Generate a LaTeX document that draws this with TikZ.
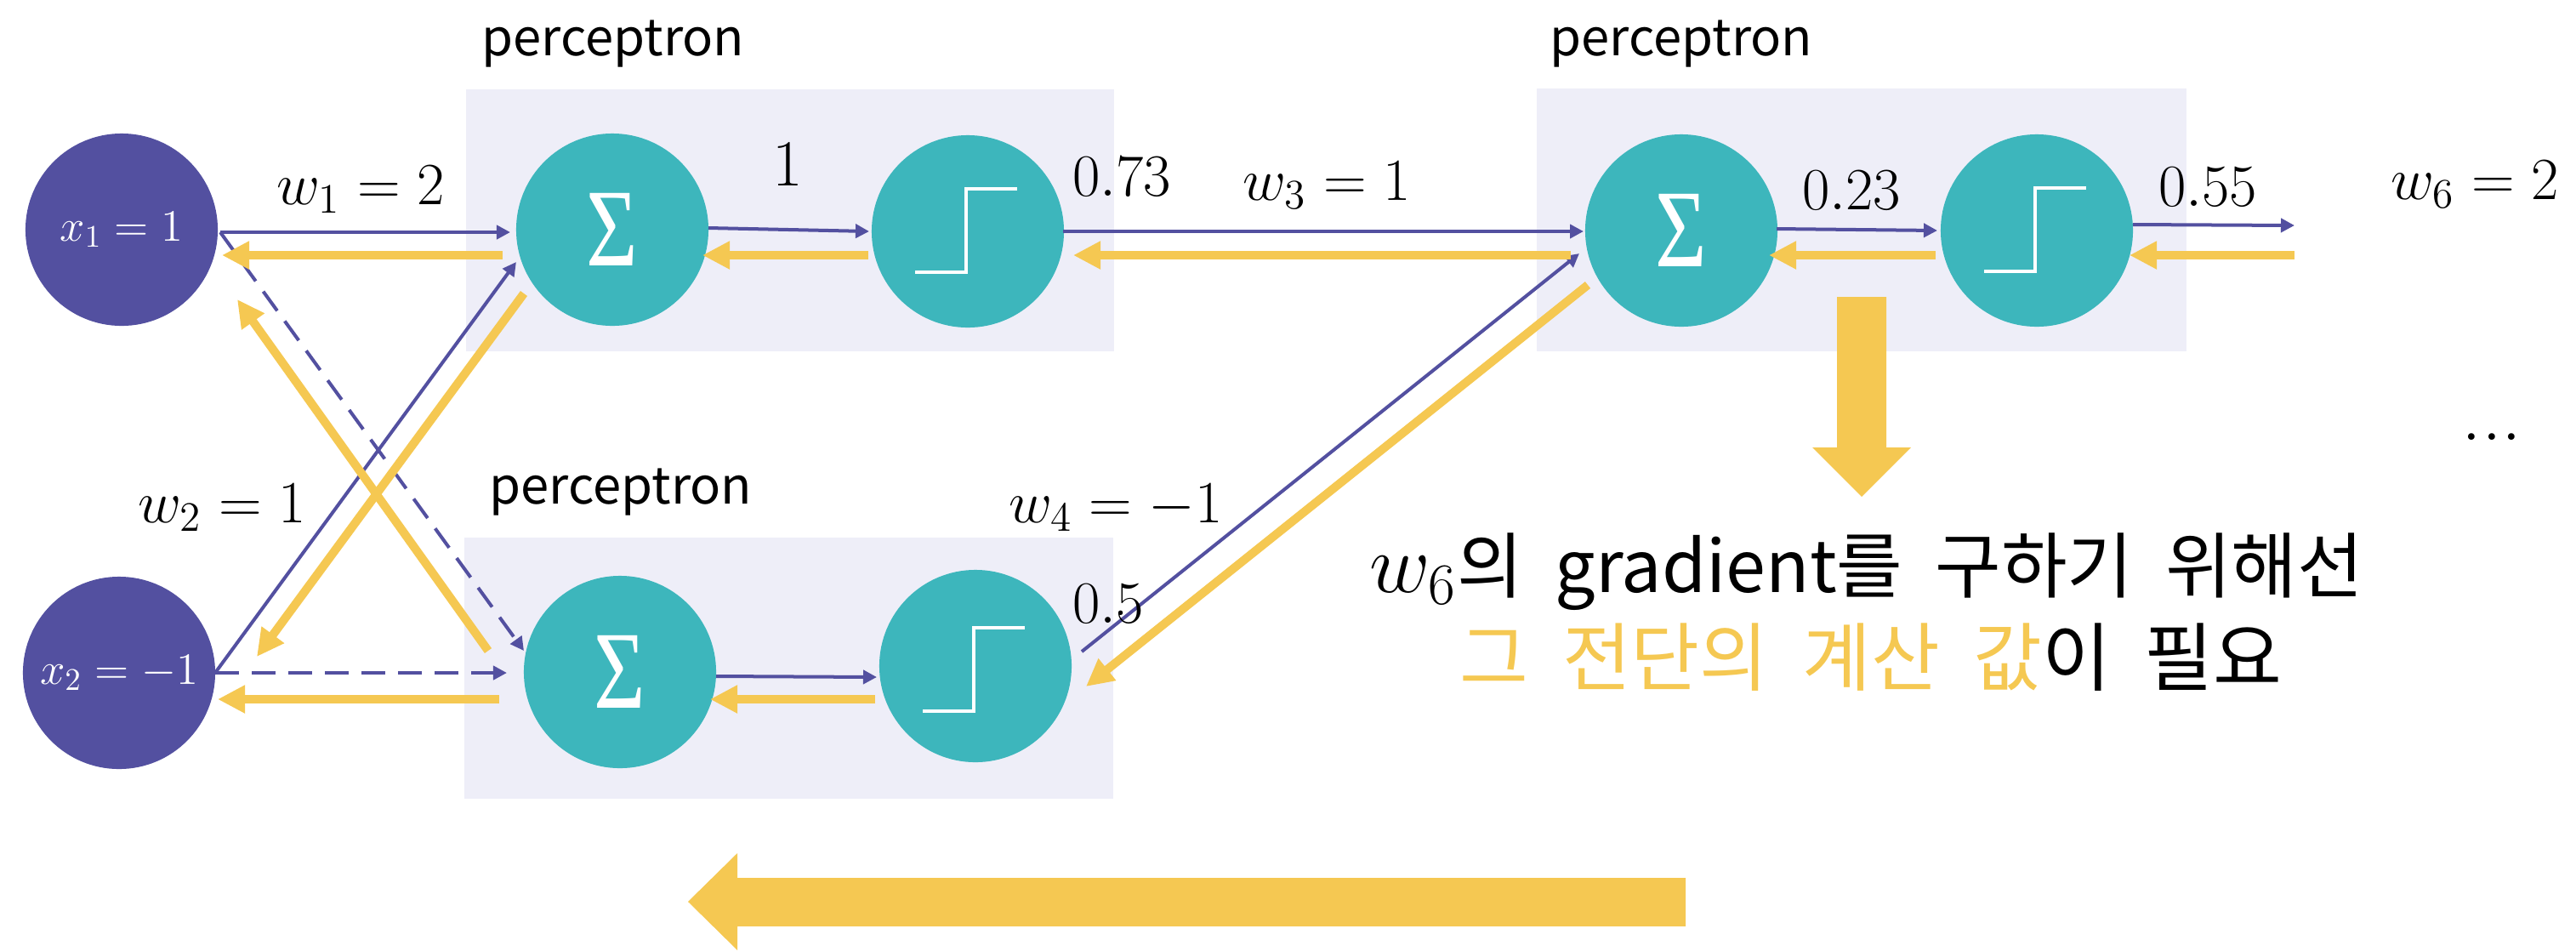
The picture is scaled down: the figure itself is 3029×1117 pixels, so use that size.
\RequirePackage{fix-cm}
\documentclass[tikz,border=0pt]{standalone}
\usepackage{graphicx}
\usepackage{fontspec}
\newfontfamily\kr[WordSpace=2]{Noto Sans CJK KR}
\newfontfamily\grk{Liberation Serif}
\usetikzlibrary{arrows.meta,calc}
\definecolor{pur}{RGB}{83,80,160}
\definecolor{tealc}{RGB}{61,182,188}
\definecolor{yel}{RGB}{245,200,82}
\definecolor{boxc}{RGB}{238,238,248}
\newcommand\sigglyph{{\grk\fontsize{37}{37}\selectfont\scalebox{0.8}[1]{Σ}}}
\tikzset{
 inp/.style={circle,fill=pur,minimum size=2.26cm,inner sep=0pt,text=white,font=\fontsize{15}{15}\selectfont},
 unit/.style={circle,fill=tealc,minimum size=2.26cm,inner sep=0pt,text=white},
 fwd/.style={draw=pur,line width=0.04cm,-{Triangle[length=0.16cm,width=0.16cm]}},
 fwddash/.style={fwd,dash pattern=on 0.28cm off 0.15cm},
 bwd/.style={draw=yel,line width=0.1cm,-{Triangle[length=0.32cm,width=0.31cm]}},
 lbl/.style={font=\fontsize{20}{20}\selectfont,inner sep=0pt,anchor=base},
 plbl/.style={font=\kr\fontsize{17}{17}\selectfont,inner sep=0pt,anchor=base},
 kor/.style={font=\kr\fontsize{24}{24}\selectfont,inner sep=0pt,anchor=base},
 stepline/.style={draw=white,line width=0.045cm},
}
\begin{document}
\begin{tikzpicture}[x=0.01cm,y=-0.01cm]
\useasboundingbox (0,0) rectangle (3029,1117);
% perceptron boxes
\fill[boxc] (548,105) rectangle (1310,413);
\fill[boxc] (546,632) rectangle (1309,939);
\fill[boxc] (1807,104) rectangle (2571,413);
% nodes
\node[inp] (x1) at (143,270) {$x_1=1$};
\node[inp] (x2) at (140,791) {$x_2=-1$};
\node[unit] (S1) at (720,270) {\sigglyph};
\node[unit] (T1) at (1138,272) {};
\node[unit] (S2) at (729,790) {\sigglyph};
\node[unit] (T2) at (1147,783) {};
\node[unit] (S3) at (1977,271) {\sigglyph};
\node[unit] (T3) at (2395,271) {};
% step glyphs
\foreach \t/\d in {T1/0,T2/5,T3/0}{
  \draw[stepline] ($(\t)+(-62,48+\d)$) -- ($(\t)+(-2,48+\d)$) -- ($(\t)+(-2,-50+\d)$) -- ($(\t)+(58,-50+\d)$);
}
% free ends
\coordinate (outR) at (2698,265);
\coordinate (inR) at (2698,300);
% forward connectors
\draw[fwd] ($(x1)+(116,3)$) -- ($(S1)+(-120,3)$);
\draw[fwd] ($(S1)+(113,-2)$) -- ($(T1)+(-116,0)$);
\draw[fwd] ($(T1)+(112,0)$) -- ($(S3)+(-115,1)$);
\draw[fwd] ($(S3)+(112,-2)$) -- ($(T3)+(-117,0)$);
\draw[fwd] ($(T3)+(113,-7)$) -- (outR);
\draw[fwd] ($(x2)+(113,0)$) -- ($(S1)+(-113,38)$);
\draw[fwd] ($(S2)+(113,5)$) -- ($(T2)+(-116,13)$);
\draw[fwd] ($(T2)+(125,-17)$) -- ($(S3)+(-120,27)$);
\draw[fwddash] ($(x1)+(116,3)$) -- ($(S2)+(-113,-25)$);
\draw[fwddash] ($(x2)+(113,0)$) -- ($(S2)+(-133,1)$);
% backward connectors
\draw[bwd] ($(S1)+(-129,30)$) -- ($(x1)+(118,30)$);
\draw[bwd] ($(T1)+(-117,28)$) -- ($(S1)+(106,30)$);
\draw[bwd] ($(S3)+(-130,29)$) -- ($(T1)+(124,28)$);
\draw[bwd] ($(T3)+(-119,29)$) -- ($(S3)+(103,29)$);
\draw[bwd] (inR) -- ($(T3)+(109,29)$);
\draw[bwd] ($(S2)+(-155,-25)$) -- ($(x1)+(136,82)$);
\draw[bwd] ($(S1)+(-104,75)$) -- ($(x2)+(162,-19)$);
\draw[bwd] ($(S2)+(-142,32)$) -- ($(x2)+(116,31)$);
\draw[bwd] ($(T2)+(-118,39)$) -- ($(S2)+(106,32)$);
\draw[bwd] ($(S3)+(-110,64)$) -- ($(T2)+(130,24)$);
% big arrows
\fill[yel] (2160,349) -- (2218,349) -- (2218,526) -- (2247,526) -- (2189,584) -- (2131,526) -- (2160,526) -- cycle;
\fill[yel] (1982,1032) -- (867,1032) -- (867,1003) -- (809,1060) -- (867,1117) -- (867,1089) -- (1982,1089) -- cycle;
% labels
\node[plbl] (p1) at (721,65) {perceptron};
\node[plbl] (p2) at (730,592) {perceptron};
\node[plbl] (p3) at (1977,65) {perceptron};
\node[lbl] (w1) at (424,240) {$w_1 = 2$};
\node[lbl,font=\fontsize{22}{22}\selectfont] (one) at (926,218) {$1$};
\node[lbl] (v073) at (1319,230) {$0.73$};
\node[lbl] (w3) at (1560,235) {$w_3 = 1$};
\node[lbl] (v023) at (2177,246) {$0.23$};
\node[lbl] (v055) at (2596,242) {$0.55$};
\node[lbl] (w6) at (2910,234) {$w_6 = 2$};
\node[lbl,font=\fontsize{27}{27}\selectfont] (dots) at (2930,517) {...};
\node[lbl] (w2) at (261,614) {$w_2 = 1$};
\node[lbl] (w4) at (1312,614) {$w_4 = -1$};
\node[lbl] (v05) at (1303,732) {$0.5$};
\node[kor] (t1) at (2195,696) {{\fontsize{28}{28}\selectfont$w_6$}의 gradient를 구하기 위해선};
\node[kor,font=\kr\fontsize{25}{25}\selectfont] (t2) at (2200,805) {\textcolor{yel}{그 전단의 계산 값}이 필요};
\end{tikzpicture}
\end{document}
